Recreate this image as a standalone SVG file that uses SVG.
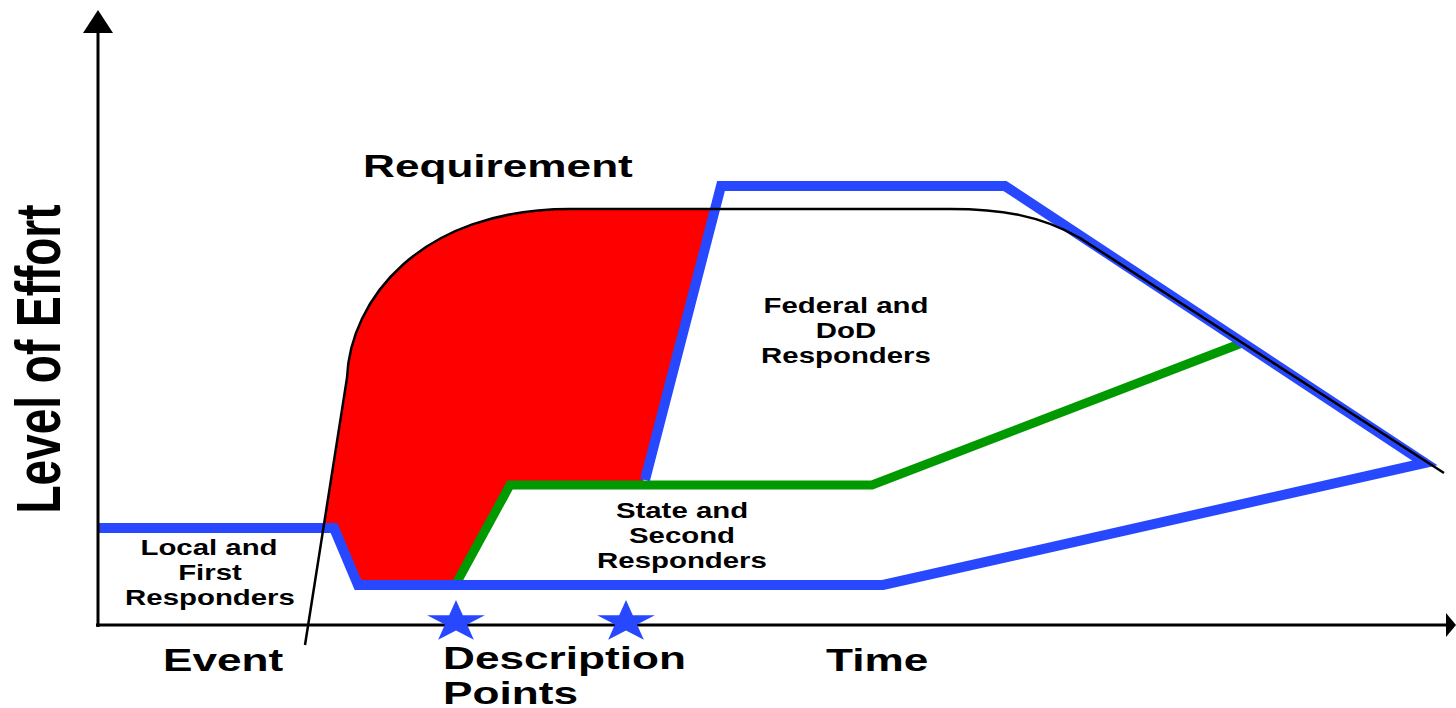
<svg xmlns="http://www.w3.org/2000/svg" width="1456" height="708" viewBox="0 0 1456 708">
<style>
.lbl{font-family:"Liberation Sans",Arial,sans-serif;font-weight:bold;fill:#000;}
.big{font-size:32px;}
.desc{font-size:31px;}
.sm{font-size:21.3px;text-anchor:middle;}
.blue{fill:none;stroke:#2748FF;stroke-width:10;stroke-linejoin:miter;}
.green{fill:none;stroke:#009900;stroke-width:9;}
.req{fill:none;stroke:#000;stroke-width:2.5;}
.axis{stroke:#000;stroke-width:3;fill:none;}
.star{fill:#2748FF;}
</style>
<defs>
<polygon id="starShape" points="0,-22 4.94,-6.8 20.92,-6.8 8,2.6 12.93,17.8 0,8.4 -12.93,17.8 -8,2.6 -20.92,-6.8 -4.94,-6.8"/>
</defs>
<rect width="1456" height="708" fill="#fff"/>
<g id="requirement-area">
<path d="M324,528 L347,378 C350,300 420,209 570,209 L716,209 L643,482 L508,482 L456,582 L362,582 L336,528 Z" fill="#FF0000"/>
</g>
<g id="connectors">
<polyline id="state-line" class="green" points="457,582 510,485 872,485 1242,343"/>
<polyline id="responder-line" class="blue" points="98,528 334,528 358,585 883,585 1425,463 1005,186 721,186 645,480"/>
<path id="requirement-curve" class="req" d="M305,645 L347,378 C350,300 420,209 570,209 L950,209 C1000,209 1040,215 1080,238 L1444,473"/>
<line class="axis" x1="98" y1="627" x2="98" y2="30"/>
<polygon points="98,10 83,33 113,33" fill="#000"/>
<line class="axis" x1="96" y1="625" x2="1448" y2="625"/>
<polygon points="1456,625 1446,613 1446,637" fill="#000"/>
</g>
<g id="stars">
<use href="#starShape" class="star" transform="translate(456,622) scale(1.38,1)"/>
<use href="#starShape" class="star" transform="translate(626,622) scale(1.38,1)"/>
</g>
<g id="y-axis-label">
<text class="lbl" font-size="46" text-anchor="middle" transform="translate(60,359) rotate(-90) scale(1,1.38)">Level of Effort</text>
</g>
<g id="requirement-label">
<text class="lbl big" transform="translate(363,177) scale(1.38,1)">Requirement</text>
</g>
<g id="local-node">
<text class="lbl sm" transform="translate(209,555) scale(1.38,1)">Local and</text>
<text class="lbl sm" transform="translate(210,580) scale(1.38,1)">First</text>
<text class="lbl sm" transform="translate(210,605) scale(1.38,1)">Responders</text>
</g>
<g id="federal-node">
<text class="lbl sm" transform="translate(846,313) scale(1.38,1)">Federal and</text>
<text class="lbl sm" transform="translate(846,338) scale(1.38,1)">DoD</text>
<text class="lbl sm" transform="translate(846,363) scale(1.38,1)">Responders</text>
</g>
<g id="state-node">
<text class="lbl sm" transform="translate(682,518) scale(1.38,1)">State and</text>
<text class="lbl sm" transform="translate(682,543) scale(1.38,1)">Second</text>
<text class="lbl sm" transform="translate(682,568) scale(1.38,1)">Responders</text>
</g>
<g id="event-label">
<text class="lbl big" transform="translate(163,671) scale(1.38,1)">Event</text>
</g>
<g id="description-label">
<text class="lbl desc" transform="translate(443,669) scale(1.425,1)">Description</text>
<text class="lbl desc" transform="translate(443,704) scale(1.425,1)">Points</text>
</g>
<g id="time-label">
<text class="lbl big" transform="translate(826,671) scale(1.38,1)">Time</text>
</g>
</svg>
